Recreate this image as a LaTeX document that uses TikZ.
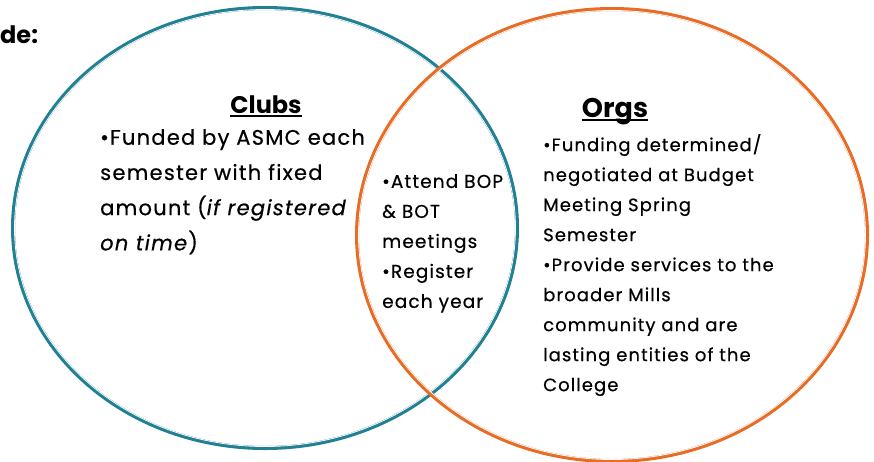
\documentclass[tikz,border=0pt]{standalone}
\usepackage{fontspec}
\setmainfont{Poppins}
\newfontfamily\wide[LetterSpace=6,FakeBold=0.5]{Poppins}
\usetikzlibrary{positioning,shapes.geometric}
\definecolor{clubteal}{RGB}{33,128,148}
\definecolor{orgorange}{RGB}{232,108,38}
\newcommand{\ulhead}[1]{\setbox0\hbox{#1}\rlap{\usebox0}\rule[-4pt]{\wd0}{1.8pt}}
\tikzstyle{ring}=[ellipse, draw, line width=4pt, inner sep=0pt]
\tikzstyle{ringline}=[ellipse, draw=white, line width=0.8pt, inner sep=0pt]
\tikzstyle{title}=[font=\fontsize{24}{28}\selectfont\bfseries, inner sep=0pt, anchor=base]
\tikzstyle{body}=[align=left, inner sep=0pt, anchor=north west]

\begin{document}
\begin{tikzpicture}[x=1pt,y=-1pt]

  \useasboundingbox (0,0) rectangle (874,461);

  % the two circles, orange drawn last so it lies on top
  \node (Clb) [ring, draw=clubteal, minimum width=504pt, minimum height=440pt]
    at (265,228) {};
  \node (ClbIn) [ringline, minimum width=501pt, minimum height=437pt]
    at (265,228) {};
  \node (Org) [ring, draw=orgorange, minimum width=510pt, minimum height=452pt]
    at (612,235) {};
  \node (OrgIn) [ringline, minimum width=507pt, minimum height=449pt]
    at (612,235) {};

  \node (Cut) [font=\fontsize{24}{28}\selectfont\bfseries, inner sep=0pt,
               anchor=base west] at (0,43) {de:};

  \node (ClbT) [title] at (266,113) {\ulhead{Clubs}};
  \node (OrgT) [title, font=\fontsize{27}{30}\selectfont\bfseries]
    at (615,117) {\ulhead{Orgs}};

  \node (ClbTxt) [body, font=\wide\fontsize{21}{35.2}\selectfont] at (100,129) {
    •Funded by ASMC each\\
    semester with fixed\\
    amount (\textit{if registered}\\
    \textit{on time})
  };

  \node (Both) [body, font=\wide\fontsize{18.5}{30}\selectfont] at (382,174) {
    •Attend BOP\\
    \& BOT\\
    meetings\\
    •Register\\
    each year
  };

  \node (OrgTxt) [body, font=\wide\fontsize{18}{30}\selectfont] at (543,134) {
    •Funding determined/\\
    negotiated at Budget\\
    Meeting Spring\\
    Semester\\
    •Provide services to the\\
    broader Mills\\
    community and are\\
    lasting entities of the\\
    College
  };

\end{tikzpicture}
\end{document}
